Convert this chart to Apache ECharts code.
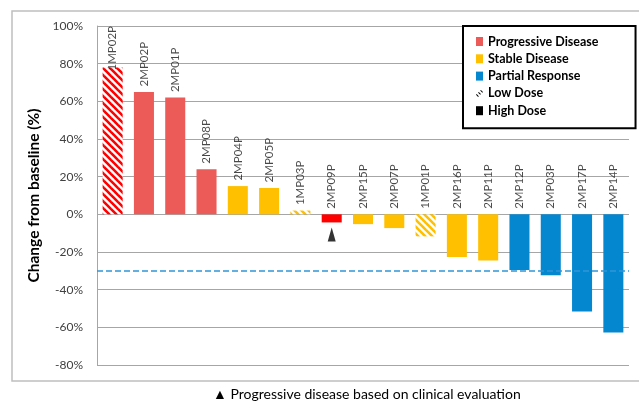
<!DOCTYPE html>
<html>
<head>
<meta charset="utf-8">
<script src="https://cdn.jsdelivr.net/npm/echarts@6/dist/echarts.min.js"></script>
<style>
  html, body { margin: 0; padding: 0; background: #fff; }
  #chart { width: 639px; height: 402px; }
</style>
</head>
<body>
<div id="chart"></div>
<script>
// Waterfall of best change from baseline per patient
const patients = ['1MP02P', '2MP02P', '2MP01P', '2MP08P', '2MP04P', '2MP05P', '1MP03P', '2MP09P', '2MP15P',
  '2MP07P', '1MP01P', '2MP16P', '2MP11P', '2MP12P', '2MP03P', '2MP17P', '2MP14P'];
const change = [78, 65, 62, 24, 15, 14, 2, -4.3, -5.2, -7.3, -11.7, -22.7, -24.5, -29.6, -32.4, -51.6, -62.8];
const response = ['PD', 'PD', 'PD', 'PD', 'SD', 'SD', 'SD', 'PD', 'SD', 'SD', 'SD', 'SD', 'SD', 'PR', 'PR', 'PR', 'PR'];
const dose = ['low', 'high', 'high', 'high', 'high', 'high', 'low', 'high', 'high', 'high', 'low', 'high', 'high',
  'high', 'high', 'high', 'high'];
const clinicalPD = ['2MP09P'];
const responseCodes = ['PD', 'SD', 'PR'];
const responseNames = ['Progressive Disease', 'Stable Disease', 'Partial Response'];
const doseNames = ['Low Dose', 'High Dose'];
const yTicks = [-80, -60, -40, -20, 0, 20, 40, 60, 80, 100];
const prThreshold = -30;
const footnote = '\u25B2 Progressive disease based on clinical evaluation';

const FONT = 'Lato, "Liberation Sans", sans-serif';
const baseColor = { PD: '#EC5B58', SD: '#FFC000', PR: '#0587CF' };
const stripeColor = { PD: '#FF0000', SD: '#FFC000', PR: '#0587CF' };
const clinicalColor = '#FF0000';

// diagonal "\" hatch used for the low dose bars
function hatch(color) {
  const s = 7;
  const c = document.createElement('canvas');
  c.width = s; c.height = s;
  const g = c.getContext('2d');
  g.fillStyle = '#fff';
  g.fillRect(0, 0, s, s);
  g.strokeStyle = color;
  g.lineWidth = 2.6;
  for (let k = -1; k <= 1; k++) {
    g.beginPath();
    g.moveTo(k * s - 1, -1);
    g.lineTo(k * s + s + 1, s + 1);
    g.stroke();
  }
  return { image: c, repeat: 'repeat' };
}

function fillFor(i) {
  const code = response[i];
  if (dose[i] === 'low') return hatch(stripeColor[code]);
  if (clinicalPD.indexOf(patients[i]) >= 0) return clinicalColor;
  return baseColor[code];
}

const barSeries = responseCodes.map((code, k) => ({
  name: responseNames[k],
  type: 'bar',
  barWidth: '64%',
  barGap: '-100%',
  z: 2,
  itemStyle: { color: baseColor[code] },
  data: change.map((v, i) => response[i] === code ? { value: v, itemStyle: { color: fillFor(i) } } : '-')
}));

const doseSeries = doseNames.map(n => ({
  name: n, type: 'bar', barWidth: '64%', barGap: '-100%', data: [], itemStyle: { color: '#000' }
}));

const chart = echarts.init(document.getElementById('chart'), null, { renderer: 'canvas' });

const option = {
  animation: false,
  backgroundColor: '#fff',
  textStyle: { fontFamily: FONT },
  grid: { left: 97, right: 10, top: 26, bottom: 37, containLabel: false },
  xAxis: {
    type: 'category',
    data: patients,
    axisLine: { show: false },
    axisTick: { show: false },
    axisLabel: { show: false },
    splitLine: { show: false }
  },
  yAxis: {
    type: 'value',
    min: yTicks[0],
    max: yTicks[yTicks.length - 1],
    interval: 20,
    name: 'Change from baseline (%)',
    nameLocation: 'middle',
    nameRotate: 90,
    nameGap: 50,
    nameTextStyle: { fontFamily: FONT, fontWeight: 'bold', fontSize: 15.5, color: '#000' },
    axisLine: { show: true, lineStyle: { color: '#A6A6A6', width: 1 } },
    axisTick: { show: false },
    axisLabel: { formatter: '{value}%', fontFamily: FONT, fontSize: 12, color: '#404040', margin: 14 },
    splitLine: { show: true, lineStyle: { color: '#A6A6A6', width: 1 } }
  },
  legend: {
    orient: 'vertical',
    left: 463,
    top: 26,
    data: [
      { name: responseNames[0], icon: 'rect' },
      { name: responseNames[1], icon: 'rect' },
      { name: responseNames[2], icon: 'rect' },
      { name: doseNames[0], icon: 'path://M0,7 L1,6 L4,9 L3,10 Z M3,4 L4,3 L7,6 L6,7 Z M6,1 L7,0 L10,3 L9,4 Z' },
      { name: doseNames[1], icon: 'rect' }
    ],
    itemWidth: 7,
    itemHeight: 9,
    itemGap: 4.3,
    padding: [9, 37, 11, 13],
    borderColor: '#000',
    borderWidth: 2,
    backgroundColor: '#fff',
    selectedMode: false,
    textStyle: { fontFamily: FONT, fontWeight: 'bold', fontSize: 12.5, color: '#000', lineHeight: 12, padding: [0, 0, 0, 0] }
  },
  graphic: [
    {
      type: 'rect', silent: true, z: -10,
      shape: { x: 12, y: 11, width: 660, height: 370 },
      style: { fill: 'none', stroke: '#BFBFBF', lineWidth: 1.5 }
    },
    {
      type: 'text', left: 213, top: 387, silent: true,
      style: { text: footnote, font: '14px ' + FONT, fill: '#000' }
    }
  ],
  series: [
    {
      // partial response threshold
      type: 'line', name: 'threshold', data: [], z: 1, silent: true,
      markLine: {
        silent: true, symbol: 'none', label: { show: false },
        lineStyle: { color: '#2F96D8', type: [6, 3], width: 1.5 },
        data: [{ yAxis: prThreshold }]
      }
    },
    ...barSeries,
    ...doseSeries,
    {
      // patient identifiers above each bar (or above the zero line)
      type: 'scatter', name: 'ids', silent: true, z: 4,
      symbolSize: 1,
      itemStyle: { color: 'rgba(0,0,0,0)' },
      data: patients.map((p, i) => [p, Math.max(change[i], 0)]),
      label: {
        show: true, position: 'top', distance: 5, rotate: 90, align: 'left', verticalAlign: 'middle',
        fontFamily: FONT, fontSize: 11.5, color: '#1A1A1A',
        formatter: p => p.value[0]
      },
      labelLayout: function (p) {
        // keep rotated labels inside the plot: shift along the text direction
        let top = 26;
        try { top = chart.convertToPixel({ yAxisIndex: 0 }, yTicks[yTicks.length - 1]); } catch (e) {}
        if (p.labelRect.y < top) return { dx: -(top - p.labelRect.y) };
        return {};
      }
    },
    {
      // clinical progression marker under the bar
      type: 'scatter', name: 'clinical', silent: true, z: 3,
      symbol: 'triangle', symbolSize: [8, 14], symbolOffset: [0, 12],
      itemStyle: { color: '#000' },
      data: patients.map((p, i) => clinicalPD.indexOf(p) >= 0 ? [p, change[i]] : null).filter(d => d)
    }
  ]
};

chart.setOption(option);
</script>
</body>
</html>
